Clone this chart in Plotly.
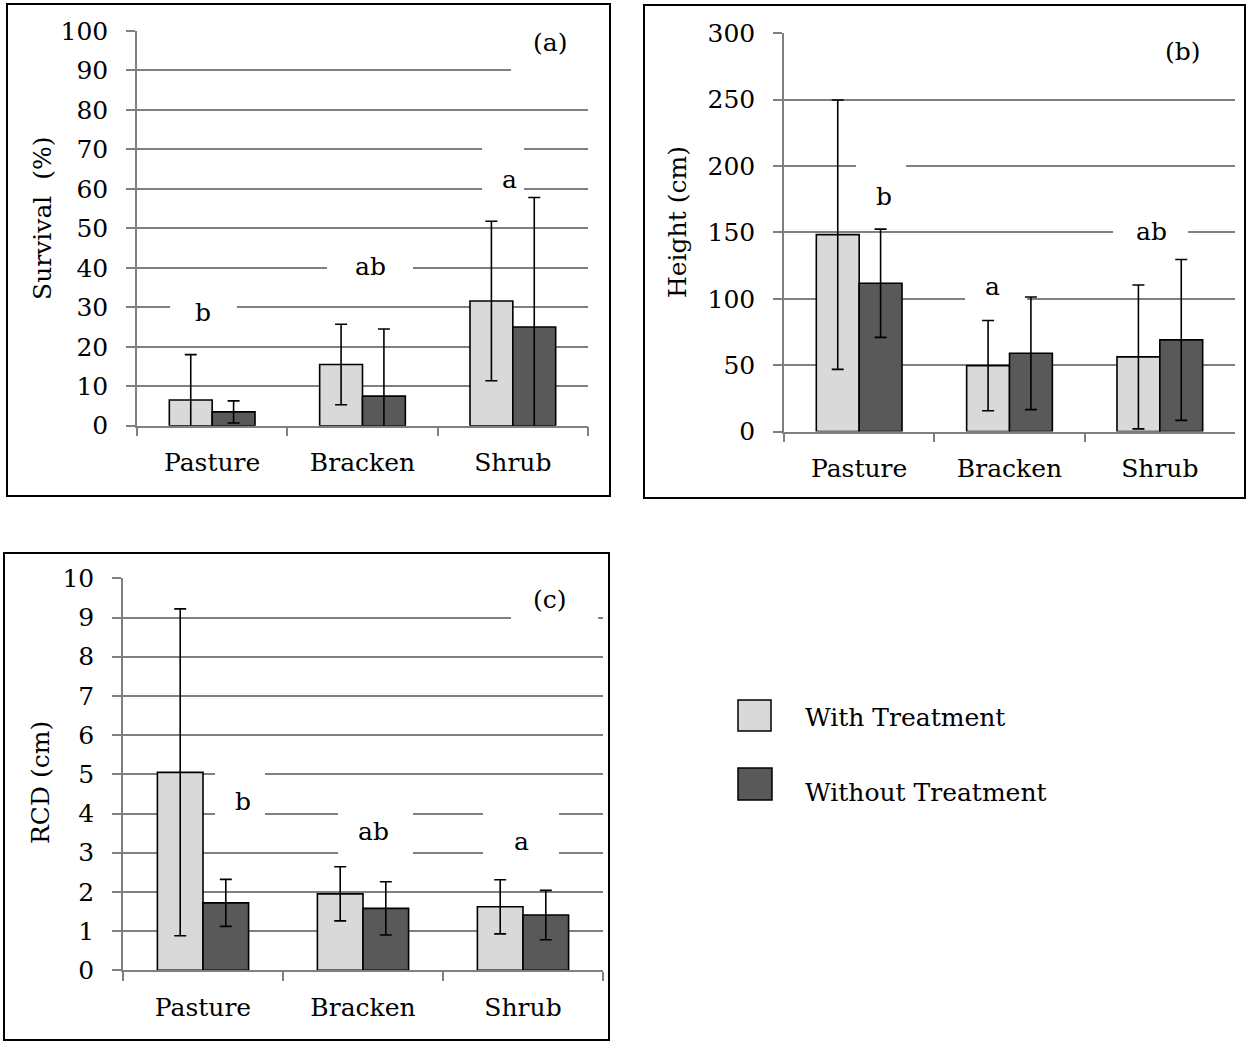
import plotly.graph_objects as go

W, H = 1247, 1041

categories = ["Pasture", "Bracken", "Shrub"]

survival_with = [6.5, 15.5, 31.6]
survival_with_err = [11.5, 10.2, 20.2]
survival_without = [3.5, 7.5, 25.0]
survival_without_err = [2.8, 17.0, 32.8]

height_with = [148.3, 49.6, 56.2]
height_with_err = [101.5, 34.0, 54.2]
height_without = [111.7, 58.9, 69.0]
height_without_err = [40.8, 42.4, 60.6]

rcd_with = [5.05, 1.95, 1.62]
rcd_with_err = [4.17, 0.69, 0.69]
rcd_without = [1.72, 1.58, 1.41]
rcd_without_err = [0.60, 0.68, 0.63]

survival_ticks = list(range(0, 101, 10))
height_ticks = list(range(0, 301, 50))
rcd_ticks = list(range(0, 11, 1))

series_names = ["With Treatment", "Without Treatment"]
LIGHT = "#d9d9d9"
DARK = "#595959"
GRID = "#808080"
FONT = "DejaVu Serif"
FS = 25


def px_x(p):
    return p / W


def px_y(p):
    return 1 - p / H


fig = go.Figure()

panels = [
    ("x", "y", survival_with, survival_with_err, survival_without, survival_without_err,
     survival_ticks, [0, 100], (137, 588), (425.7, 31)),
    ("x2", "y2", height_with, height_with_err, height_without, height_without_err,
     height_ticks, [0, 300], (784, 1235), (431.5, 33.3)),
    ("x3", "y3", rcd_with, rcd_with_err, rcd_without, rcd_without_err,
     rcd_ticks, [0, 10], (123, 603), (970.3, 578.3)),
]

layout_axes = {}
for i, (xa, ya, w, we, wo, woe, ticks, rng, xpx, ypx) in enumerate(panels):
    for vals, errs, col, name in ((w, we, LIGHT, series_names[0]), (wo, woe, DARK, series_names[1])):
        fig.add_trace(go.Bar(
            x=categories, y=vals, name=name, xaxis=xa, yaxis=ya,
            marker=dict(color=col, line=dict(color="black", width=1.6)),
            error_y=dict(type="data", array=errs, symmetric=True, color="black",
                         thickness=1.6, width=6),
            showlegend=False,
        ))
    xkey = "xaxis" if xa == "x" else "xaxis" + xa[1:]
    ykey = "yaxis" if ya == "y" else "yaxis" + ya[1:]
    layout_axes[xkey] = dict(
        domain=[px_x(xpx[0]), px_x(xpx[1])], anchor=ya,
        type="category", range=[-0.5, 2.5], tickson="boundaries",
        ticks="outside", ticklen=9, tickcolor=GRID, tickwidth=1.5,
        showline=True, linecolor=GRID, linewidth=1.5, showgrid=False,
        tickfont=dict(family=FONT, size=FS, color="black"),
        ticklabelstandoff=14, fixedrange=True, automargin=False,
    )
    layout_axes[ykey] = dict(
        domain=[px_y(ypx[0]), px_y(ypx[1])], anchor=xa,
        range=rng, tickvals=ticks, ticks="outside", ticklen=9, tickcolor=GRID,
        tickwidth=1.5, showline=True, linecolor=GRID, linewidth=1.5,
        showgrid=True, gridcolor=GRID, gridwidth=1.5, zeroline=False,
        tickfont=dict(family=FONT, size=FS, color="black"),
        ticklabelstandoff=13, fixedrange=True, automargin=False,
    )

fig.update_layout(**layout_axes)

shapes = []
annotations = []

# white boxes behind the letter labels (they interrupt the gridlines) and the labels
labels = [
    ("x", "y", 1.988, 2.6, 85, 102, "(a)", 2.248, 97.0),
    ("x", "y", -0.28, 0.165, 25, 35, "b", -0.06, 28.7),
    ("x", "y", 0.764, 1.336, 36, 45, "ab", 1.05, 40.3),
    ("x", "y", 1.795, 2.075, 57, 70.6, "a", 1.975, 62.4),
    ("x2", "y2", 1.888, 2.6, 280, 305, "(b)", 2.155, 286),
    ("x2", "y2", -0.021, 0.312, 165, 212, "b", 0.165, 176.8),
    ("x2", "y2", 0.704, 1.117, 95, 120, "a", 0.89, 108.9),
    ("x2", "y2", 1.689, 2.188, 140, 165, "ab", 1.942, 150.4),
    ("x3", "y3", 1.925, 2.469, 8.7, 10.2, "(c)", 2.169, 9.45),
    ("x3", "y3", 0.075, 0.3875, 3.7, 5.2, "b", 0.25, 4.3),
    ("x3", "y3", 0.844, 1.3125, 2.8, 4.2, "ab", 1.0625, 3.54),
    ("x3", "y3", 1.75, 2.225, 2.8, 4.2, "a", 1.9875, 3.28),
]
for xr, yr, x0, x1, y0, y1, txt, tx, ty in labels:
    shapes.append(dict(type="rect", xref=xr, yref=yr, x0=x0, x1=x1, y0=y0, y1=y1,
                       fillcolor="white", line=dict(width=0), layer="between"))
    annotations.append(dict(xref=xr, yref=yr, x=tx, y=ty, text=txt, showarrow=False,
                            font=dict(family=FONT, size=FS, color="black"),
                            xanchor="center", yanchor="middle"))

# panel borders
for x0, y0, x1, y1 in [(7, 4, 610, 496), (644, 5, 1245, 498), (4, 553, 609, 1040)]:
    shapes.append(dict(type="rect", xref="paper", yref="paper",
                       x0=px_x(x0), x1=px_x(x1), y0=px_y(y0), y1=px_y(y1),
                       line=dict(color="black", width=2), fillcolor="rgba(0,0,0,0)",
                       layer="above"))

# axis titles
for txt, x, y in [("Survival  (%)", 42, 219), ("Height (cm)", 678, 222), ("RCD (cm)", 40, 783)]:
    annotations.append(dict(xref="paper", yref="paper", x=px_x(x), y=px_y(y), text=txt,
                            textangle=-90, showarrow=False,
                            font=dict(family=FONT, size=FS, color="black"),
                            xanchor="center", yanchor="middle"))

# legend
for (x0, y0, x1, y1), col, name, ty in [((738, 700, 771, 731), LIGHT, series_names[0], 717),
                                       ((738, 768, 772, 800), DARK, series_names[1], 792)]:
    shapes.append(dict(type="rect", xref="paper", yref="paper",
                       x0=px_x(x0), x1=px_x(x1), y0=px_y(y0), y1=px_y(y1),
                       fillcolor=col, line=dict(color="black", width=1.5)))
    annotations.append(dict(xref="paper", yref="paper", x=px_x(803), y=px_y(ty), text=name,
                            showarrow=False, font=dict(family=FONT, size=FS, color="black"),
                            xanchor="left", yanchor="middle"))

fig.update_layout(
    width=W, height=H, margin=dict(l=0, r=0, t=0, b=0, pad=0, autoexpand=False),
    paper_bgcolor="white", plot_bgcolor="white",
    barmode="group", bargap=0.43, bargroupgap=0,
    shapes=shapes, annotations=annotations, showlegend=False,
)

fig.write_html("out.html", config={"displayModeBar": False})
